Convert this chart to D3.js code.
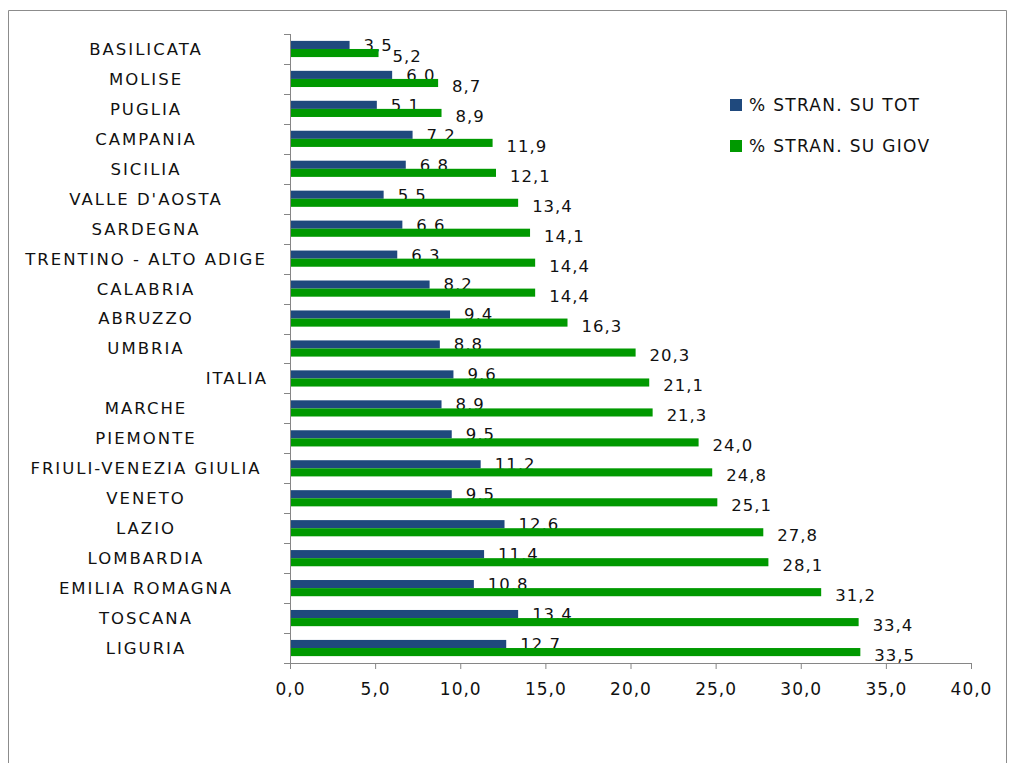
<!DOCTYPE html>
<html><head><meta charset="utf-8">
<script src="https://cdn.jsdelivr.net/npm/d3@7/dist/d3.min.js"></script>
<style>
html,body{margin:0;padding:0;background:#fff;}
svg{display:block;font-family:"DejaVu Sans",sans-serif;}
</style></head>
<body><svg id="chart" width="1010" height="763"></svg>
<script>
const categories = ["BASILICATA","MOLISE","PUGLIA","CAMPANIA","SICILIA","VALLE D'AOSTA","SARDEGNA","TRENTINO - ALTO ADIGE","CALABRIA","ABRUZZO","UMBRIA","ITALIA","MARCHE","PIEMONTE","FRIULI-VENEZIA GIULIA","VENETO","LAZIO","LOMBARDIA","EMILIA ROMAGNA","TOSCANA","LIGURIA"];
const strTot = [3.5,6.0,5.1,7.2,6.8,5.5,6.6,6.3,8.2,9.4,8.8,9.6,8.9,9.5,11.2,9.5,12.6,11.4,10.8,13.4,12.7];
const strGiov = [5.2,8.7,8.9,11.9,12.1,13.4,14.1,14.4,14.4,16.3,20.3,21.1,21.3,24.0,24.8,25.1,27.8,28.1,31.2,33.4,33.5];
const seriesNames = ["% STRAN. SU TOT","% STRAN. SU GIOV"];
const xTicks = [0,5,10,15,20,25,30,35,40];

(function(){
const colors = ["#1f497d","#009900"];
const textColor = "#111";
const svg = d3.select("#chart");
const fmt = v => d3.format(".1f")(v).replace(".", ",");

// frame
svg.append("path").attr("d","M8.5,763 V10.5 H1006.5 V763").attr("fill","none").attr("stroke","#8c8c8c").attr("stroke-width",1);

const mLeft = 290, mRight = 971, mTop = 34, mBottom = 663;
const x = d3.scaleLinear().domain([0,40]).range([mLeft,mRight]);
const y0 = d3.scaleBand().domain(categories).range([mTop,mBottom]).padding(0);
const y1 = d3.scaleBand().domain([0,1]).range([0,y0.bandwidth()]).paddingInner(0).paddingOuter(0.85);

const series = [strTot, strGiov];
const g = svg.append("g");
series.forEach((vals, si) => {
  g.selectAll(".bar"+si).data(categories).enter().append("rect")
    .attr("x", x(0))
    .attr("y", d => y0(d) + y1(si))
    .attr("width", (d,i) => x(vals[i]) - x(0))
    .attr("height", y1.bandwidth())
    .attr("fill", colors[si]);
  g.selectAll(".lab"+si).data(categories).enter().append("text")
    .attr("x", (d,i) => x(vals[i]) + 14)
    .attr("y", d => y0(d) + y1(si) + y1.bandwidth()/2 + (si===1?3:0))
    .attr("dy","0.36em")
    .attr("font-size","16.5px")
    .attr("letter-spacing","1px")
    .attr("fill",textColor)
    .text((d,i) => fmt(vals[i]));
});

// y axis
const axisColor = "#868686";
svg.append("line").attr("x1",mLeft+0.5).attr("x2",mLeft+0.5).attr("y1",mTop).attr("y2",mBottom).attr("stroke",axisColor);
const bounds = categories.map(c => y0(c)).concat([mBottom]);
svg.selectAll(".ytick").data(bounds).enter().append("line")
  .attr("x1",mLeft-6).attr("x2",mLeft).attr("y1",d=>Math.round(d)+0.5).attr("y2",d=>Math.round(d)+0.5).attr("stroke",axisColor);
svg.selectAll(".ylab").data(categories).enter().append("text")
  .attr("x", d => d === "ITALIA" ? 268 : 146)
  .attr("text-anchor", d => d === "ITALIA" ? "end" : "middle")
  .attr("y", d => y0(d) + y0.bandwidth()/2)
  .attr("dy","0.36em")
  .attr("font-size","16.5px")
  .attr("letter-spacing","2px")
  .attr("fill",textColor)
  .text(d => d);

// x axis
const xa = svg.append("g").attr("transform",`translate(0,${mBottom})`)
  .call(d3.axisBottom(x).tickValues(xTicks).tickSize(6).tickPadding(14).tickFormat(fmt));
xa.select(".domain").attr("stroke",axisColor);
xa.selectAll(".tick line").attr("stroke",axisColor);
xa.selectAll(".tick text").attr("font-size","17px").attr("letter-spacing","1px").attr("fill",textColor).attr("font-family","DejaVu Sans");

// legend
const leg = svg.append("g");
seriesNames.forEach((n,i) => {
  const ly = 105 + i*41;
  leg.append("rect").attr("x",730).attr("y",ly-6).attr("width",12).attr("height",12).attr("fill",colors[i]);
  leg.append("text").attr("x",749).attr("y",ly).attr("dy","0.36em").attr("font-size","17px").attr("letter-spacing","1.3px").attr("fill",textColor).text(n);
});
})();
</script></body></html>
